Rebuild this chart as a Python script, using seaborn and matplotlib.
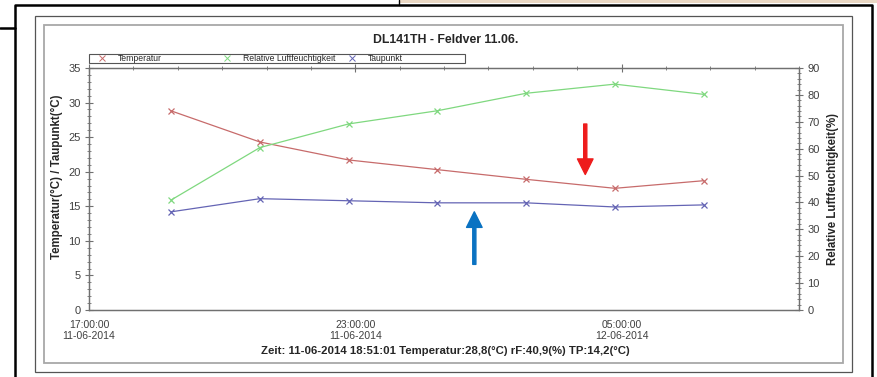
import numpy as np
import pandas as pd
import matplotlib
matplotlib.use("Agg")
import matplotlib.pyplot as plt
import matplotlib.dates as mdates
import matplotlib.patches as patches
from matplotlib.lines import Line2D
from matplotlib.legend import Legend
from matplotlib.ticker import MultipleLocator
import seaborn as sns

# ==============================
# DATA
# ==============================
zeit = ["2014-06-11 18:51:01", "2014-06-11 20:51:01", "2014-06-11 22:51:01",
        "2014-06-12 00:51:01", "2014-06-12 02:51:01", "2014-06-12 04:51:01",
        "2014-06-12 06:51:01"]
temperatur = [28.8, 24.3, 21.7, 20.3, 18.9, 17.6, 18.7]
luftfeuchte = [40.9, 60.4, 69.2, 74.1, 80.6, 84.0, 80.2]
taupunkt = [14.2, 16.1, 15.8, 15.5, 15.5, 14.9, 15.2]

legend_labels = ["Temperatur", "Relative Luftfeuchtigkeit", "Taupunkt"]
titel = "DL141TH - Feldver 11.06."
fusszeile = "Zeit: 11-06-2014 18:51:01 Temperatur:28,8(°C) rF:40,9(%) TP:14,2(°C)"

# arrows added on the screenshot: (time, y start, y end) on the temperature axis
pfeil_rot = ("2014-06-12 04:11", 26.9, 19.6)
pfeil_blau = ("2014-06-12 01:41", 6.6, 14.2)

C_TEMP = "#c76b6b"
C_RF = "#7fd87f"
C_TP = "#6464b4"

df = pd.DataFrame({
    "zeit": pd.to_datetime(zeit),
    "temperatur": temperatur,
    "rf": luftfeuchte,
    "tp": taupunkt,
})

# ==============================
# STYLE
# ==============================
sns.set_style("white")
plt.rcParams["font.family"] = ["Liberation Sans Narrow", "Liberation Sans", "DejaVu Sans"]

W, H = 877, 377
fig = plt.figure(figsize=(W / 100, H / 100), dpi=100)


def fx(px):
    return px / W


def fy(py):
    return 1 - py / H


# frames of the screenshot
fig.patches.append(patches.Rectangle((fx(399), fy(3)), fx(W - 399), 3 / H,
                                     transform=fig.transFigure, color="#ead8c4", lw=0))
fig.lines.append(Line2D([fx(399), fx(399)], [fy(0), fy(5)], transform=fig.transFigure,
                        color="black", lw=1))
fig.lines.append(Line2D([fx(15), fx(15), fx(872), fx(872)], [fy(H + 5), fy(5), fy(5), fy(H + 5)],
                        transform=fig.transFigure, color="black", lw=1.8))
fig.lines.append(Line2D([fx(0), fx(15)], [fy(28), fy(28)], transform=fig.transFigure,
                        color="black", lw=1.8))
fig.patches.append(patches.Rectangle((fx(35), fy(372)), fx(852 - 35), (372 - 16) / H,
                                     transform=fig.transFigure, fill=False, ec="#555555", lw=0.9))
fig.patches.append(patches.Rectangle((fx(44), fy(363)), fx(843 - 44), (363 - 25) / H,
                                     transform=fig.transFigure, fill=False, ec="#a8a8a8", lw=1.3))

# ==============================
# AXES
# ==============================
ax = fig.add_axes([fx(89), fy(310), fx(799 - 89), (310 - 68) / H])
ax2 = ax.twinx()

sns.lineplot(data=df, x="zeit", y="temperatur", ax=ax, color=C_TEMP, lw=0.9,
             marker="x", markersize=4, mew=0.9, mec=C_TEMP)
sns.lineplot(data=df, x="zeit", y="tp", ax=ax, color=C_TP, lw=0.9,
             marker="x", markersize=4, mew=0.9, mec=C_TP)
sns.lineplot(data=df, x="zeit", y="rf", ax=ax2, color=C_RF, lw=0.9,
             marker="x", markersize=4, mew=0.9, mec=C_RF)

ax.set_xlim(pd.Timestamp("2014-06-11 17:00"), pd.Timestamp("2014-06-12 09:00"))
ax.set_ylim(0, 35)
ax2.set_ylim(0, 90)

ax.xaxis.set_major_locator(mdates.HourLocator(byhour=[5, 11, 17, 23]))
ax.xaxis.set_minor_locator(mdates.HourLocator(interval=1))
ax.xaxis.set_major_formatter(mdates.DateFormatter("%H:%M:%S\n%d-%m-%Y"))
ax.yaxis.set_major_locator(MultipleLocator(5))
ax.yaxis.set_minor_locator(MultipleLocator(1))
ax2.yaxis.set_major_locator(MultipleLocator(10))
ax2.yaxis.set_minor_locator(MultipleLocator(2))

for a in (ax, ax2):
    for s in a.spines.values():
        s.set_visible(True)
        s.set_color("#707070")
        s.set_linewidth(0.9)
    a.tick_params(which="major", direction="inout", length=6, width=0.8, color="#707070",
                  labelsize=8, labelcolor="#404040", pad=3)
    a.tick_params(which="minor", direction="inout", length=3, width=0.6, color="#707070")
ax.tick_params(axis="x", which="both", top=True)
ax.tick_params(axis="x", which="major", pad=4, labelsize=7.5)

ax.set_xlabel("")
ax.set_ylabel("Temperatur(°C) / Taupunkt(°C)", fontsize=8.3, fontweight="bold")
ax2.set_ylabel("Relative Luftfeuchtigkeit(%)", fontsize=8.3, fontweight="bold")
ax.yaxis.set_label_coords(-0.037, 0.55)
ax2.yaxis.set_label_coords(1.040, 0.5)
for lbl in ax.get_xticklabels():
    lbl.set_linespacing(1.15)

# legend: box above the plot with three equally spaced entries
ax2.add_patch(patches.Rectangle((0, 1.0207), 0.5296, 0.0372, transform=ax.transAxes,
                                clip_on=False, fill=False, ec="#555555", lw=0.8))
for lab, col, xpos in zip(legend_labels, [C_TEMP, C_RF, C_TP], [0.0125, 0.1885, 0.3645]):
    h = Line2D([], [], ls="none", marker="x", markersize=4, mew=0.7, color=col)
    leg = Legend(ax2, [h], [lab], loc="center left", bbox_to_anchor=(xpos, 1.039),
                 frameon=False, fontsize=6.2, handlelength=1.0, handletextpad=1.3,
                 borderpad=0, borderaxespad=0)
    ax2.add_artist(leg)

# arrows drawn onto the screenshot
for (t, y0, y1), col in [(pfeil_rot, "#ee1c1c"), (pfeil_blau, "#0a72c2")]:
    ax.annotate("", xy=(pd.Timestamp(t), y1), xytext=(pd.Timestamp(t), y0),
                arrowprops=dict(arrowstyle="simple,head_length=0.7,head_width=0.7,tail_width=0.14",
                                color=col, shrinkA=0, shrinkB=0, mutation_scale=16))

fig.text(fx(446), fy(40), titel, ha="center", va="center", fontsize=8.8, fontweight="bold")
fig.text(fx(445), fy(351), fusszeile, ha="center", va="center", fontsize=8.2, fontweight="bold")

fig.savefig("out.png", dpi=100)
